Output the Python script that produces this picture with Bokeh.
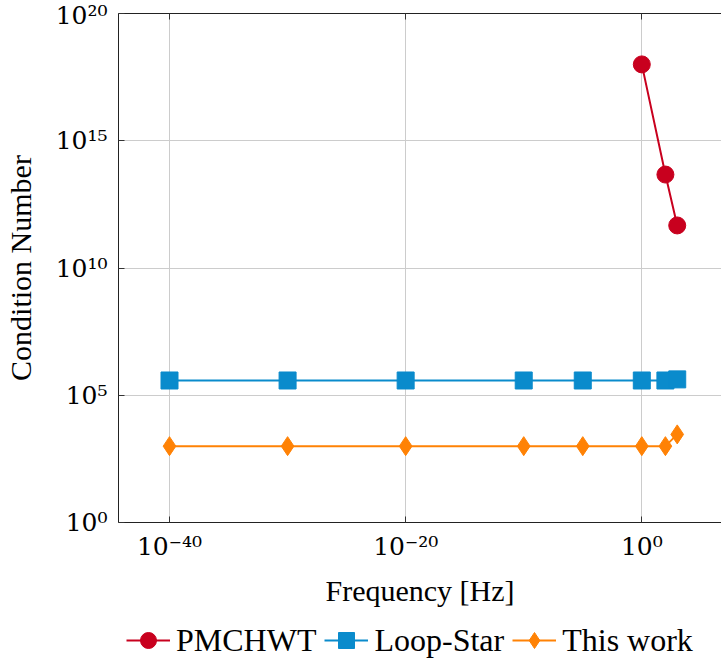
from bokeh.plotting import figure
from bokeh.layouts import column
from bokeh.models import (FixedTicker, CustomJSTickFormatter, Range1d, LogAxis,
                          Legend, LegendItem)
from bokeh.embed import file_html
from bokeh.resources import INLINE

# ---- data ----
freq_pmchwt = [1e0, 1e2, 1e3]
cond_pmchwt = [1.0e18, 4.7e13, 4.7e11]

freq_loopstar = [1e-40, 1e-30, 1e-20, 1e-10, 1e-5, 1e0, 1e2, 1e3]
cond_loopstar = [3.8e5, 3.8e5, 3.8e5, 3.8e5, 3.8e5, 3.8e5, 3.8e5, 4.2e5]

freq_thiswork = [1e-40, 1e-30, 1e-20, 1e-10, 1e-5, 1e0, 1e2, 1e3]
cond_thiswork = [1.0e3, 1.0e3, 1.0e3, 1.0e3, 1.0e3, 1.0e3, 1.0e3, 2.9e3]

x_ticks = [1e-40, 1e-20, 1e0]
y_ticks = [1e0, 1e5, 1e10, 1e15, 1e20]

series_names = ["PMCHWT", "Loop-Star", "This work"]

RED = "#C8001E"
BLUE = "#0A8BCC"
ORANGE = "#FF8205"
FONT = "Liberation Serif"
TICKFONT = "DejaVu Serif"

MAIN_H = 618
p = figure(width=721, height=MAIN_H, x_axis_type="log", y_axis_type="log",
           x_range=Range1d(10 ** -44.32, 10 ** 6.75), y_range=Range1d(1e0, 1e20),
           output_backend="svg", toolbar_location=None,
           min_border_left=118, min_border_top=13, min_border_right=0,
           min_border_bottom=MAIN_H - 522)

fmt = CustomJSTickFormatter(code="""
const sup = {"0":"\u2070","1":"\u00b9","2":"\u00b2","3":"\u00b3","4":"\u2074",
             "5":"\u2075","6":"\u2076","7":"\u2077","8":"\u2078","9":"\u2079","-":"\u207b"};
const e = Math.round(Math.log10(tick));
return "10" + String(e).split("").map(c => sup[c]).join("");
""")

for ax, ticks in ((p.xaxis[0], x_ticks), (p.yaxis[0], y_ticks)):
    ax.ticker = FixedTicker(ticks=ticks, minor_ticks=[])
    ax.formatter = fmt
    ax.major_tick_in = 6
    ax.major_tick_out = 0
    ax.minor_tick_in = 0
    ax.minor_tick_out = 0
    ax.major_label_text_font = TICKFONT
    ax.major_label_text_font_size = "25px"
    ax.major_label_text_color = "black"
    ax.axis_label_text_font = FONT
    ax.axis_label_text_font_size = "30px"
    ax.axis_label_text_font_style = "normal"
    ax.axis_label_text_color = "black"
    ax.axis_line_color = "#222222"
    ax.major_tick_line_color = "#333333"

p.xaxis.axis_label = "Frequency [Hz]"
p.yaxis.axis_label = "Condition Number"
p.xaxis.major_label_standoff = 9
p.xaxis.axis_label_standoff = 10
p.yaxis.major_label_standoff = 11
p.yaxis.axis_label_standoff = 16

# top frame line with mirrored ticks (no labels)
top = LogAxis(ticker=FixedTicker(ticks=x_ticks, minor_ticks=[]),
              formatter=CustomJSTickFormatter(code="return ''"),
              major_tick_in=6, major_tick_out=0, minor_tick_in=0, minor_tick_out=0,
              major_label_text_font_size="2px", major_label_standoff=0,
              axis_line_color="#222222", major_tick_line_color="#333333")
p.add_layout(top, "above")

p.xgrid.ticker = FixedTicker(ticks=x_ticks)
p.ygrid.ticker = FixedTicker(ticks=y_ticks)
p.grid.grid_line_color = "#cccccc"
p.grid.grid_line_width = 1

p.outline_line_color = None
p.background_fill_color = "white"
p.border_fill_color = "white"


def add_series(fig, xs, ys, color, marker, size):
    ln = fig.line(xs, ys, line_color=color, line_width=2)
    mk = fig.scatter(xs, ys, marker=marker, size=size,
                     fill_color=color, line_color=color)
    return [ln, mk]


add_series(p, freq_pmchwt, cond_pmchwt, RED, "circle", 17)
add_series(p, freq_loopstar, cond_loopstar, BLUE, "square", 17)
add_series(p, freq_thiswork, cond_thiswork, ORANGE, "diamond", 19)

# ---- strip below the axes that carries the legend ----
# (same series, drawn against a range that keeps them out of view,
#  so the legend shows the real line+marker glyphs)
LEG_H = 661 - MAIN_H
q = figure(width=721, height=LEG_H, x_range=Range1d(0, 1), y_range=Range1d(-2, -1),
           output_backend="svg", toolbar_location=None,
           x_axis_location=None, y_axis_location=None,
           min_border_left=0, min_border_right=0, min_border_top=0,
           min_border_bottom=0)
q.grid.visible = False
q.outline_line_color = None
q.border_fill_color = "white"
q.background_fill_color = "white"

k1 = add_series(q, freq_pmchwt, cond_pmchwt, RED, "circle", 17)
k2 = add_series(q, freq_loopstar, cond_loopstar, BLUE, "square", 17)
k3 = add_series(q, freq_thiswork, cond_thiswork, ORANGE, "diamond", 19)

legend = Legend(items=[
    LegendItem(label=series_names[0], renderers=k1),
    LegendItem(label=series_names[1], renderers=k2),
    LegendItem(label=series_names[2], renderers=k3),
], orientation="horizontal", location=(8, 1))
legend.label_text_font = FONT
legend.label_text_font_size = "32px"
legend.label_text_color = "black"
legend.glyph_width = 44
legend.glyph_height = 40
legend.label_standoff = 6
legend.spacing = 8
legend.padding = 0
legend.margin = 0
legend.border_line_color = None
legend.background_fill_alpha = 0
q.add_layout(legend, "center")

layout = column(p, q, spacing=0)
open("out.html", "w").write(file_html(layout, INLINE))
